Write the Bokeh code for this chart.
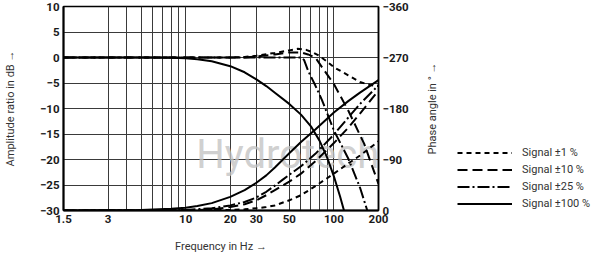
import math
from bokeh.plotting import figure
from bokeh.layouts import row
from bokeh.models import (Range1d, LinearAxis, FixedTicker, Legend, LegendItem, Label)
from bokeh.embed import file_html
from bokeh.resources import INLINE

# ---------------- data ----------------
freq_labels = [1.5, 3, 10, 20, 30, 50, 100, 200]
freq_grid = [3, 4, 5, 6, 7, 8, 9, 10, 20, 30, 50, 60, 70, 80, 90, 100]
db_ticks = [10, 5, 0, -5, -10, -15, -20, -25, -30]
phase_ticks = [-360, -270, -180, -90, 0]

series_labels = ["Signal ±1 %", "Signal ±10 %", "Signal ±25 %", "Signal ±100 %"]

# amplitude ratio (dB) vs frequency (Hz)
amp1_f = [1.5, 20, 25, 30, 40, 50, 57, 65, 72, 79, 90, 100, 125, 150, 175, 200]
amp1_db = [0, 0, 0.1, 0.35, 0.9, 1.4, 1.7, 1.5, 1.0, 0.4, -0.8, -1.9, -3.5, -4.8, -5.4, -5.6]
amp10_f = [1.5, 25, 30, 40, 50, 60, 67, 75, 85, 100, 125, 160, 200]
amp10_db = [0, 0, 0.2, 0.6, 1.0, 1.0, 0.6, 0, -2.3, -5.2, -10.4, -16.9, -24.8]
amp25_f = [1.5, 60, 63, 67, 75, 83, 100, 125, 150, 168]
amp25_db = [0, 0, -0.5, -2.6, -5.5, -8.3, -14.3, -19.8, -25.5, -30]
amp100_f = [1.5, 5, 8, 10, 12, 15, 20, 25, 30, 35, 40, 50, 60, 70, 80, 90, 100, 110, 117]
amp100_db = [0, 0, -0.05, -0.15, -0.35, -0.75, -1.7, -2.9, -4.3, -5.6, -6.9, -9.1, -11.2,
             -13.5, -16.3, -19.6, -23.3, -27.2, -30]

# phase angle (deg) vs frequency (Hz)
ph1_f = [1.5, 20, 25, 30, 35, 40, 50, 60, 75, 100, 125, 150, 200]
ph1_deg = [0, -1, -2, -4, -6, -9, -18, -27, -43, -65, -83, -97, -122]
ph10_f = [1.5, 10, 15, 20, 25, 30, 35, 40, 45, 50, 60, 75, 100, 125, 150, 200]
ph10_deg = [0, 0, -2, -6, -11, -18, -27, -36, -44, -51, -65, -87, -119, -146, -171, -212]
ph25_f = [1.5, 10, 15, 20, 25, 30, 35, 40, 45, 50, 60, 75, 100, 125, 150, 200]
ph25_deg = [0, -1, -4, -9, -15, -23, -33, -44, -54, -63, -78, -100, -134, -164, -188, -221]
ph100_f = [1.5, 5, 8, 10, 12, 15, 20, 25, 30, 35, 40, 50, 60, 75, 100, 125, 150, 200]
ph100_deg = [0, -1, -3, -5, -8, -13, -24, -36, -49, -62, -76, -101, -121, -143, -173, -193,
             -208, -230]

watermark = "Hydrotech"
phase_title = "Phase angle in ° →"

# ---------------- main figure ----------------
TICK_FONT = "Roboto"
LABEL_FONT = "Roboto"
P_WIDTH = 411

p = figure(width=P_WIDTH, height=258, x_axis_type="log",
           x_range=Range1d(1.5, 200), y_range=Range1d(-30, 10),
           output_backend="svg", toolbar_location=None,
           min_border_left=55, min_border_right=33,
           min_border_top=6, min_border_bottom=48)
p.extra_y_ranges = {"phase": Range1d(start=0, end=-360)}
p.background_fill_color = "white"
p.border_fill_color = "white"
p.outline_line_color = "black"
p.outline_line_width = 1.5

# grids
p.xgrid.ticker = FixedTicker(ticks=freq_grid)
p.ygrid.ticker = FixedTicker(ticks=db_ticks)
for g in (p.xgrid, p.ygrid):
    g.grid_line_color = "#3a3a3a"
    g.grid_line_width = 1

# bottom axis
xa = p.xaxis[0]
xa.ticker = FixedTicker(ticks=freq_labels)
xa.major_label_overrides = {v: ("1.5" if v == 1.5 else str(int(v))) for v in freq_labels}
xa.axis_label = "Frequency in Hz →"

# left axis
ya = p.yaxis[0]
ya.ticker = FixedTicker(ticks=db_ticks)
ya.major_label_overrides = {v: (str(v) if v >= 0 else "−" + str(-v)) for v in db_ticks}
ya.axis_label = "Amplitude ratio in dB →"

# right axis (phase) - its title is placed in the key panel to read bottom-to-top
ra = LinearAxis(y_range_name="phase", ticker=FixedTicker(ticks=phase_ticks))
p.add_layout(ra, "right")

for ax in (xa, ya, ra):
    ax.major_tick_out = 0
    ax.major_tick_in = 0
    ax.minor_tick_line_color = None
    ax.axis_line_color = "black"
    ax.major_label_text_font = TICK_FONT
    ax.major_label_text_font_style = "bold"
    ax.major_label_text_font_size = "11.5px"
    ax.major_label_text_color = "#1a1a1a"
    ax.axis_label_text_font = LABEL_FONT
    ax.axis_label_text_font_style = "normal"
    ax.axis_label_text_font_size = "11px"
    ax.axis_label_text_color = "#333333"
    ax.major_label_standoff = 4
xa.axis_line_width = 2
ya.axis_line_width = 2
ra.axis_line_width = 1.5
xa.axis_label_standoff = 14
ya.axis_label_standoff = 20

# watermark text (kept inside the plot frame)
p.add_layout(Label(x=11.8, y=-19.0, text=watermark, text_font=LABEL_FONT,
                   text_font_size="40px", text_color="#c4c4c4", text_alpha=0.8,
                   text_baseline="alphabetic", level="underlay"))

# ---------------- curves ----------------
styles = {
    "Signal ±1 %": "5 4",
    "Signal ±10 %": "10 5",
    "Signal ±25 %": "12 3 2 3",
    "Signal ±100 %": "solid",
}
amp_data = [(amp1_f, amp1_db), (amp10_f, amp10_db), (amp25_f, amp25_db), (amp100_f, amp100_db)]
ph_data = [(ph1_f, ph1_deg), (ph10_f, ph10_deg), (ph25_f, ph25_deg), (ph100_f, ph100_deg)]

for lab, (af, ad), (pf, pd) in zip(series_labels, amp_data, ph_data):
    dash = styles[lab]
    p.line(af, ad, line_color="black", line_width=2, line_dash=dash, line_join="round")
    p.line(pf, pd, y_range_name="phase", line_color="black", line_width=2,
           line_dash=dash, line_join="round")

# ---------------- key panel (phase title + legend) ----------------
q = figure(width=591 - P_WIDTH, height=258, x_range=Range1d(-1, 0), y_range=Range1d(0, 1),
           output_backend="svg", toolbar_location=None,
           x_axis_location=None, y_axis_location=None,
           min_border_left=0, min_border_right=0, min_border_top=0, min_border_bottom=0)
q.grid.visible = False
q.outline_line_color = None
q.background_fill_color = "white"
q.border_fill_color = "white"

q.add_layout(Label(x=432 - P_WIDTH, y=102, x_units="screen", y_units="screen",
                   text=phase_title, angle=math.pi / 2, text_align="center",
                   text_baseline="middle", text_font=LABEL_FONT, text_font_size="11px",
                   text_color="#333333"))

items = []
for lab, (af, ad) in zip(series_labels, amp_data):
    # same series, out of this key panel's view: only its legend sample shows
    rr = q.line(af, ad, line_color="black", line_width=2, line_dash=styles[lab])
    items.append(LegendItem(label=lab, renderers=[rr]))

legend = Legend(items=items, location=(457 - P_WIDTH, -1.5), glyph_width=55, glyph_height=17,
                label_height=17, label_standoff=10, spacing=0, padding=0, margin=0,
                border_line_color=None, background_fill_alpha=0,
                label_text_font=LABEL_FONT, label_text_font_size="11px",
                label_text_color="#333333")
q.add_layout(legend)

open("out.html", "w").write(file_html(row(p, q), INLINE))
